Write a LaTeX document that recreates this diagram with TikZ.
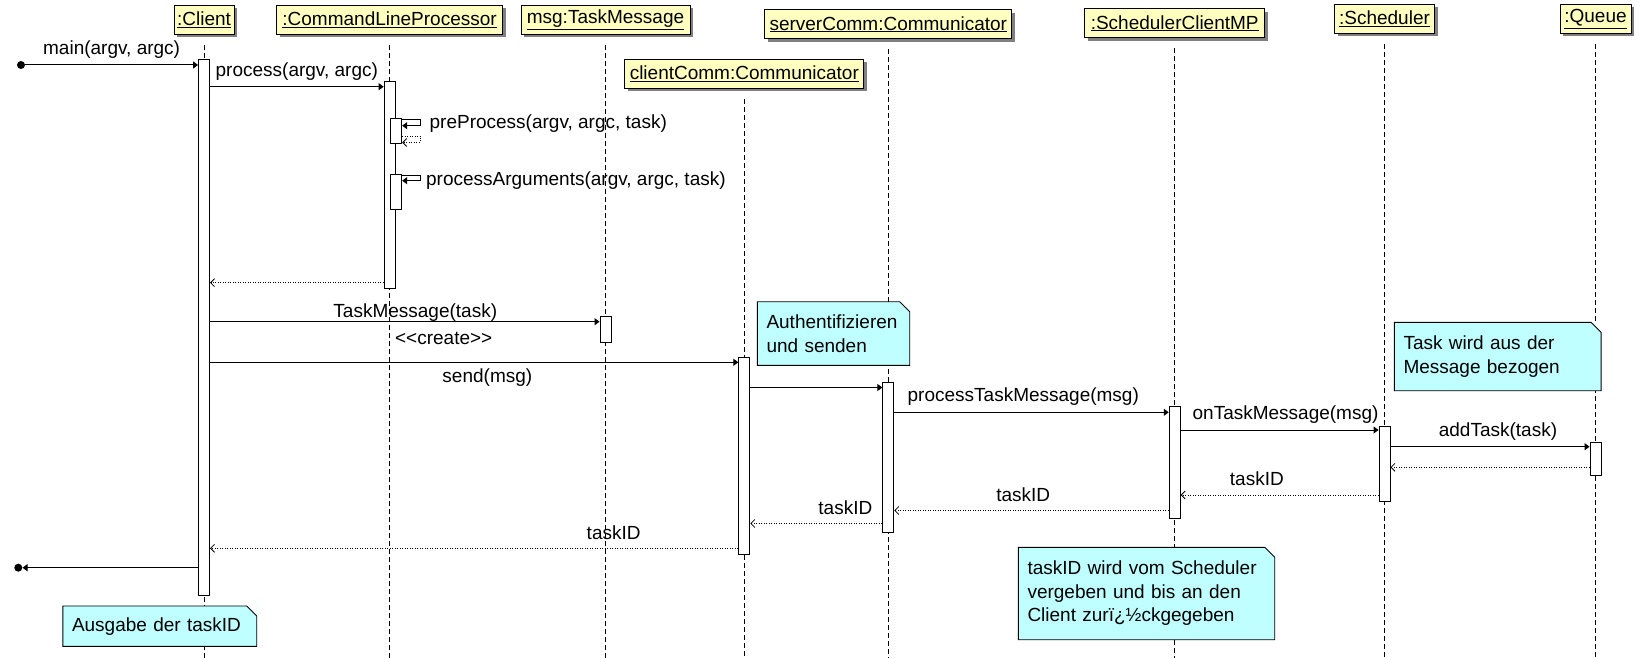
\documentclass[tikz,border=0pt]{standalone}
\usepackage{fontspec}
\setmainfont{Liberation Sans}
\usetikzlibrary{arrows.meta,positioning,shadows,calc}
\definecolor{objfill}{RGB}{255,255,192}
\definecolor{notefill}{RGB}{192,255,255}

\begin{document}
\begin{tikzpicture}[x=1pt, y=-1pt, font=\fontsize{19}{23.5}\selectfont,
    obj/.style={draw, fill=objfill, anchor=north, minimum height=29pt, inner sep=2pt, line width=0.9pt,
        drop shadow={shadow xshift=3pt, shadow yshift=-3pt, opacity=1, fill=black!50}},
    life/.style={dash pattern=on 5pt off 3pt, line width=0.8pt},
    act/.style={draw, fill=white, anchor=north, minimum width=11pt, inner sep=0pt, line width=0.9pt},
    call/.style={-{Triangle[length=5pt,width=7pt]}, line width=1pt},
    ret/.style={-{Straight Barb[length=4pt,width=8pt]}, dash pattern=on 1pt off 1.5pt, line width=0.8pt},
    lbl/.style={inner sep=2pt},
    dot/.style={circle, fill=black, inner sep=0pt, minimum size=8pt},
    note/.style={anchor=north west, fill=notefill, align=left, inner xsep=9pt, inner ysep=2pt}]
    \useasboundingbox (0,0) rectangle (1644,658);

    \foreach \id/\x/\y/\w/\txt in {cl/204/4.7/60/{:Client}, clp/389.6/4.7/226/{:CommandLineProcessor},
        msg/605.5/4.7/169/{msg:TaskMessage}, cc/744.3/58.7/239/{clientComm:Communicator},
        sc/888.3/9.3/247/{serverComm:Communicator}, scmp/1174.7/8.3/180/{:SchedulerClientMP},
        sch/1384.5/4/100/{:Scheduler}, q/1595.5/4/71/{:Queue}} {
        \node[obj, minimum width=\w] (\id) at (\x,\y) {\underline{\txt}};
        \draw[life] ([yshift=-10pt]\id.south) -- (\id |- 0,658);
    }

    \foreach \id/\at/\top/\h in {aCl/cl/59.3/535.7, aCLP/clp/81.3/207, aMsg/msg/316/25.7, aCC/cc/357.3/197,
        aSC/sc/382.3/150, aSCMP/scmp/405.7/112.6, aSch/sch/425.7/75.3, aQ/q/441.7/33.6}
        \node[act, minimum height=\h] (\id) at (\at |- 0,\top) {};
    \node[act, minimum height=25, xshift=6.6pt] (aPre) at (clp |- 0,118.3) {};
    \node[act, minimum height=35.3, xshift=6.6pt] (aArg) at (clp |- 0,174) {};

    \node[note, text width=134pt, minimum height=63.3pt] (nAuth) at (757.3,301.7) {Authentifizieren\\und senden};
    \node[note, text width=188.4pt, minimum height=68pt] (nTask) at (1394.3,322.3) {Task wird aus der\\Message bezogen};
    \node[note, text width=238pt, minimum height=92pt] (nId) at (1018.3,547.3) {taskID wird vom Scheduler\\vergeben und bis an den\\Client zurï¿½ckgegeben};
    \node[note, text width=175.5pt, minimum height=40pt] (nOut) at (62.8,606) {Ausgabe der taskID};
    \foreach \n in {nAuth,nTask,nId,nOut} {
        \fill[white] (\n.north east) -- ++(-10,0) -- ++(10,10) -- cycle;
        \draw[line width=0.9pt] (\n.north west) -- ([xshift=-10pt]\n.north east) -- ([yshift=-10pt]\n.north east)
            -- (\n.south east) -- (\n.south west) -- cycle;
    }

    \node[dot] (start) at (21,65) {};
    \node[dot] (stop) at (18.3,567.7) {};

    \draw[call] (start) -- (aCl.west |- start) node[midway, above=4.5pt, lbl] {main(argv, argc)};
    \draw[call] (aCl.east |- 0,86.7) -- (aCLP.west |- 0,86.7) node[midway, above=3.5pt, lbl] {process(argv, argc)};
    \draw[call] (aPre.east |- 0,120) -- ++(18,0) node[right=7pt, yshift=-4pt, lbl] {preProcess(argv, argc, task)}
        |- (aPre.east |- 0,125.7);
    \draw[ret] (aPre.east |- 0,136) -- ++(18,0) |- (aPre.east |- 0,142.5);
    \draw[call] (aArg.east |- 0,175) -- ++(18,0) node[right=3.5pt, yshift=-6pt, lbl] {processArguments(argv, argc, task)}
        |- (aArg.east |- 0,180.7);
    \draw[ret] (aCLP.west |- 0,282.7) -- (aCl.east |- 0,282.7);
    \draw[call] (aCl.east |- 0,321.7) -- (aMsg.west |- 0,321.7)
        node[pos=0.527, above=-2.5pt, lbl] {TaskMessage(task)}
        node[pos=0.6, below=8.5pt, lbl] {<\kern0pt<create>\kern0pt>};
    \draw[call] (aCl.east |- 0,362.3) -- (aCC.west |- 0,362.3) node[pos=0.525, below=3.5pt, lbl] {send(msg)};
    \draw[call] (aCC.east |- 0,387.5) -- (aSC.west |- 0,387.5);
    \draw[call] (aSC.east |- 0,412.3) -- (aSCMP.west |- 0,412.3) node[pos=0.47, above=4.5pt, lbl] {processTaskMessage(msg)};
    \draw[call] (aSCMP.east |- 0,430) -- (aSch.west |- 0,430) node[pos=0.53, above=4.5pt, lbl] {onTaskMessage(msg)};
    \draw[call] (aSch.east |- 0,446.7) -- (aQ.west |- 0,446.7) node[pos=0.54, above=4pt, lbl] {addTask(task)};
    \draw[ret] (aQ.west |- 0,467.3) -- (aSch.east |- 0,467.3);
    \draw[ret] (aSch.west |- 0,495) -- (aSCMP.east |- 0,495) node[pos=0.615, above=6.5pt, lbl] {taskID};
    \draw[ret] (aSCMP.west |- 0,510.5) -- (aSC.east |- 0,510.5) node[pos=0.53, above=6.5pt, lbl] {taskID};
    \draw[ret] (aSC.west |- 0,523.5) -- (aCC.east |- 0,523.5) node[pos=0.28, above=6.5pt, lbl] {taskID};
    \draw[ret] (aCC.west |- 0,548.3) -- (aCl.east |- 0,548.3) node[pos=0.236, above=6.5pt, lbl] {taskID};
    \draw[call] (aCl.west |- stop) -- (stop);
\end{tikzpicture}
\end{document}
